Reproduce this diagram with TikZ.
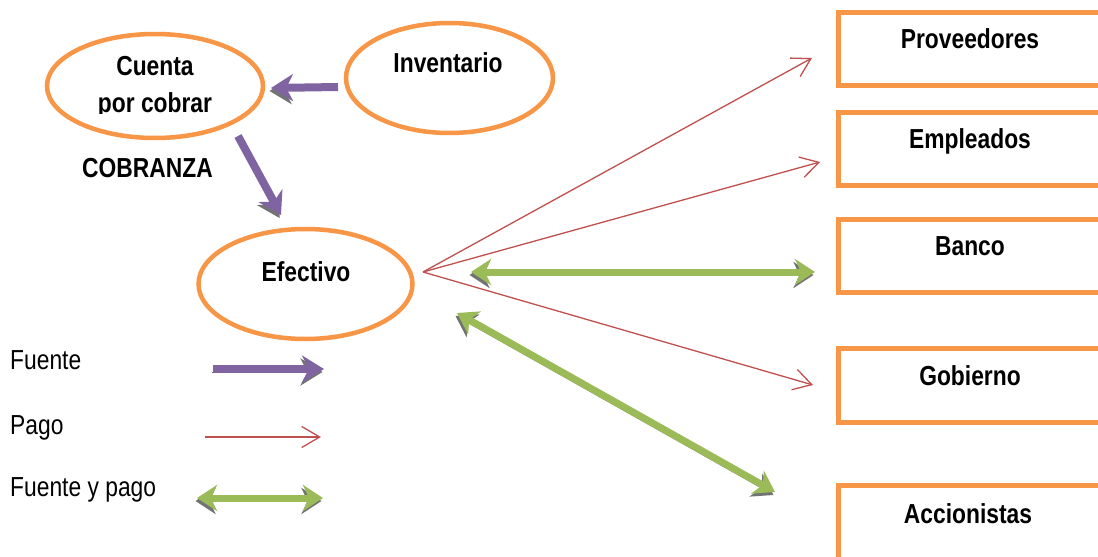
\documentclass[tikz,border=0pt]{standalone}
\usepackage{fontspec}
\setmainfont{Liberation Sans}[FakeStretch=0.83]
\usetikzlibrary{arrows.meta,shapes.geometric,calc}
\definecolor{orng}{HTML}{F79646}
\definecolor{purp}{HTML}{8064A2}
\definecolor{grn}{HTML}{9BBB59}
\definecolor{rd}{HTML}{C0504D}
\begin{document}
\begin{tikzpicture}[x=1pt,y=-1pt,
  oval/.style={draw=orng,line width=4.5pt,ellipse,inner sep=0pt,fill=white},
  entity/.style={draw=orng,line width=5pt,rectangle,inner sep=0pt,minimum width=264pt},
  bold/.style={font=\fontsize{27.5}{33}\selectfont\bfseries,inner sep=0pt,anchor=base},
  plain/.style={font=\fontsize{27.5}{33}\selectfont,inner sep=0pt,anchor=base west},
  shadowed/.style={preaction={draw=black!55,transform canvas={shift={(-1.5pt,-3pt)}}}},
  fuente/.style={shadowed,draw=purp,line width=8pt,-{Stealth[length=22pt,width=27pt,inset=7pt]}},
  ambos/.style={shadowed,draw=grn,line width=7pt,{Stealth[length=20pt,width=26pt,inset=6pt]}-{Stealth[length=20pt,width=26pt,inset=6pt]}},
  pago/.style={draw=rd,line width=1.3pt,-{Straight Barb[length=18pt,width=21pt]}}
]
\useasboundingbox (0,0) rectangle (1098,557);
\clip (0,0) rectangle (1098,557);

% ellipses
\node[oval,minimum width=216pt,minimum height=104pt] (cxc) at (155,86) {};
\node[oval,minimum width=207pt,minimum height=110pt] (inv) at (449.5,78) {};
\node[oval,minimum width=214pt,minimum height=110pt] (efe) at (305.5,284) {};

\begin{scope}
\clip (40,30) rectangle (270,113);
\node[bold] (cxc1) at (155,75) {Cuenta};
\node[bold] (cxc2) at (155,112) {por cobrar};
\end{scope}
\node[bold] (invt) at (448,72.5) {Inventario};
\node[bold] (efet) at (306,281.5) {Efectivo};
\node[bold] (cobr) at (147.5,177) {COBRANZA};

% boxes
\node[entity,minimum height=73pt] (prov) at (970,48.5) {};
\node[entity,minimum height=73pt] (emp) at (970,149) {};
\node[entity,minimum height=73pt] (banco) at (970,256) {};
\node[entity,minimum height=74pt] (gob) at (970,385.5) {};
\node[entity,minimum height=80pt] (acc) at (970,525) {};
\node[bold] (provt) at ($(prov.center)+(0,0)$) {Proveedores};
\node[bold] (empt) at ($(emp.center)+(0,-1)$) {Empleados};
\node[bold] (bancot) at ($(banco.center)+(0,-1)$) {Banco};
\node[bold] (gobt) at ($(gob.center)+(0,-0.5)$) {Gobierno};
\node[bold] (acct) at (968,523) {Accionistas};

% connector end points
\coordinate (a1s) at (338,87);
\coordinate (a1e) at (271,88);
\coordinate (a2s) at (238,136);
\coordinate (a2e) at (281,215);
\coordinate (src) at (423,272);
\coordinate (tprov) at (812,58);
\coordinate (temp) at (820,162);
\coordinate (tgob) at (813,385);
\coordinate (gb1) at (471,272);
\coordinate (gb2) at (815,272);
\coordinate (gd1) at (457,313);
\coordinate (gd2) at (775,492);

\draw[fuente] (a1s) -- (a1e);
\draw[fuente] (a2s) -- (a2e);
\draw[pago] (src) -- (tprov);
\draw[pago] (src) -- (temp);
\draw[pago] (src) -- (tgob);
\draw[ambos] (gb1) -- (gb2);
\draw[ambos] (gd1) -- (gd2);

% legend
\node[plain] (lf) at (10,369) {Fuente};
\node[plain] (lp) at (10,434) {Pago};
\node[plain] (lfp) at (10,496) {Fuente y pago};
\coordinate (l1s) at (213,369);
\coordinate (l1e) at (324,369);
\coordinate (l2s) at (205,437);
\coordinate (l2e) at (321,437);
\coordinate (l3s) at (197,498);
\coordinate (l3e) at (323,498);
\draw[fuente] (l1s) -- (l1e);
\draw[pago] (l2s) -- (l2e);
\draw[ambos] (l3s) -- (l3e);
\end{tikzpicture}
\end{document}
